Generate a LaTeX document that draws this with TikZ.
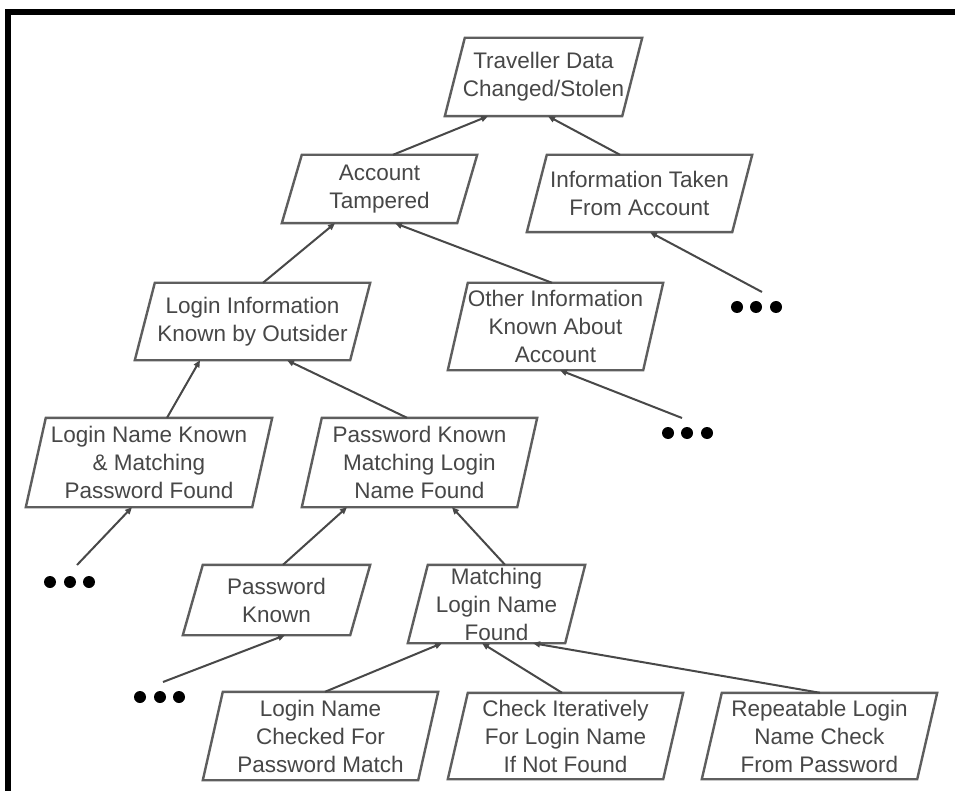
\documentclass[tikz,border=0pt]{standalone}
\usepackage{fontspec}
\setmainfont{Liberation Sans}
\usetikzlibrary{arrows.meta}
\definecolor{framegray}{HTML}{5E5E5E}
\definecolor{textgray}{HTML}{474747}
\definecolor{linkgray}{HTML}{484848}
\begin{document}
\begin{tikzpicture}[x=1pt,y=-1pt,
  box/.style={draw=none, inner sep=0pt, align=center, text=textgray,
    font=\fontsize{22.5}{28}\selectfont},
  frame/.style={draw=framegray, line width=2.4pt, line join=miter},
  link/.style={draw=linkgray, line width=2pt,
    -{Triangle[length=7pt,width=6pt]}},
  dot/.style={fill=black},
  border/.style={draw=black, line width=6pt}
]
\useasboundingbox (0,0) rectangle (955,791);
\fill[white] (0,0) rectangle (955,791);

% page frame (top and left only)
\draw[border] (955,12) -- (8,12) -- (8,791);

% goal tree nodes (text areas spanning each parallelogram's extent)
\node[box, minimum width=197pt, minimum height=78pt] (trav)  at (543.5,77)    {Traveller Data\\Changed/Stolen};
\node[box, minimum width=195pt, minimum height=68pt] (acct)  at (379.5,189)   {Account\\Tampered};
\node[box, minimum width=225pt, minimum height=77pt] (info)  at (639.5,193.5) {Information Taken\\From Account};
\node[box, minimum width=235pt, minimum height=77pt] (login) at (252.5,321.5) {Login Information\\Known by Outsider};
\node[box, minimum width=215pt, minimum height=87pt] (other) at (555.5,326.5) {Other Information\\Known About\\Account};
\node[box, minimum width=246pt, minimum height=89pt] (lnk)   at (149,462.5)   {Login Name Known\\\& Matching\\Password Found};
\node[box, minimum width=235pt, minimum height=89pt] (pkm)   at (419.5,462.5) {Password Known\\Matching Login\\Name Found};
\node[box, minimum width=187pt, minimum height=70pt] (pk)    at (276.5,600)   {Password\\Known};
\node[box, minimum width=177pt, minimum height=78pt] (mlf)   at (496.5,604)   {Matching\\Login Name\\Found};
\node[box, minimum width=235pt, minimum height=88pt] (lnc)   at (320.5,736)   {Login Name\\Checked For\\Password Match};
\node[box, minimum width=235pt, minimum height=86pt] (chk)   at (565.5,736)   {Check Iteratively\\For Login Name\\If Not Found};
\node[box, minimum width=235pt, minimum height=86pt] (rep)   at (819.5,736)   {Repeatable Login\\Name Check\\From Password};

% parallelogram outlines
\foreach \n in {trav,acct,info,login,other,lnk,pkm,pk,mlf,lnc,chk,rep}
  \draw[frame] ([xshift=20pt]\n.north west) -- (\n.north east)
    -- ([xshift=-20pt]\n.south east) -- (\n.south west) -- cycle;

% free ends of the unexpanded branches
\coordinate (moreinfo)  at (762,292);
\coordinate (moreother) at (682,418);
\coordinate (morelnk)   at (77,565);
\coordinate (morepk)    at (163,682);

% connectors, child to parent
\draw[link] ([xshift=13.5pt]acct.north)  -- ([xshift=-55.5pt]trav.south);
\draw[link] ([xshift=-19.5pt]info.north) -- ([xshift=4.5pt]trav.south);
\draw[link] ([xshift=10.5pt]login.north) -- ([xshift=-44.5pt]acct.south);
\draw[link] ([xshift=-3.5pt]other.north) -- ([xshift=15.5pt]acct.south);
\draw[link] ([xshift=18pt]lnk.north)     -- ([xshift=-52.5pt]login.south);
\draw[link] ([xshift=-12.5pt]pkm.north)  -- ([xshift=34.5pt]login.south);
\draw[link] ([xshift=6.5pt]pk.north)     -- ([xshift=-72.5pt]pkm.south);
\draw[link] ([xshift=8.5pt]mlf.north)    -- ([xshift=32.5pt]pkm.south);
\draw[link] ([xshift=4.5pt]lnc.north)    -- ([xshift=-54.5pt]mlf.south);
\draw[link] ([xshift=-3.5pt]chk.north)   -- ([xshift=-14.5pt]mlf.south);
\draw[link] ([xshift=0.5pt]rep.north)    -- ([xshift=36.5pt]mlf.south);
\draw[link] (moreinfo)  -- ([xshift=10.5pt]info.south);
\draw[link] (moreother) -- ([xshift=4.5pt]other.south);
\draw[link] (morelnk)   -- ([xshift=-17pt]lnk.south);
\draw[link] (morepk)    -- ([xshift=8.5pt]pk.south);

% ellipsis dots
\foreach \x in {737,756,776} \fill[dot] (\x,307) circle (6pt);
\foreach \x in {668,687,707} \fill[dot] (\x,433) circle (6pt);
\foreach \x in {50,70,89}    \fill[dot] (\x,582) circle (6pt);
\foreach \x in {140,160,179} \fill[dot] (\x,697) circle (6pt);
\end{tikzpicture}
\end{document}
